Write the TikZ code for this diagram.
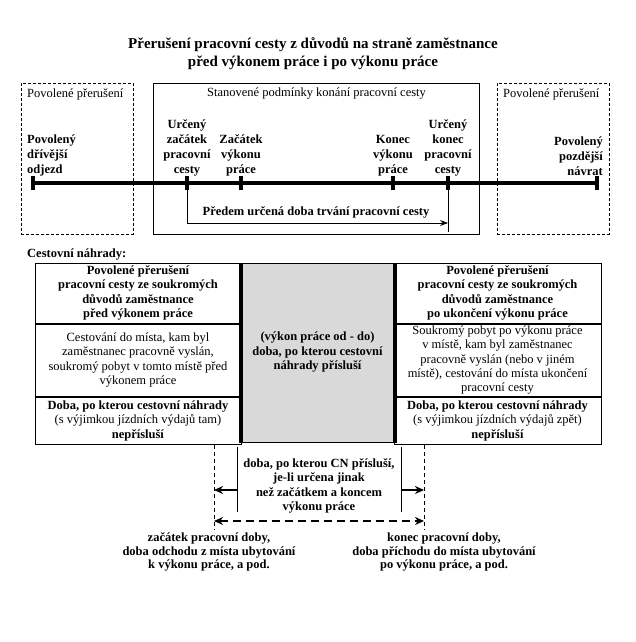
\documentclass[tikz,border=0pt]{standalone}
\usepackage{fontspec}
\setmainfont{Liberation Serif}
\usetikzlibrary{arrows.meta, positioning}

\begin{document}
\begin{tikzpicture}[x=1pt, y=-1pt,
    every node/.style={inner sep=0pt, font=\fontsize{12.5}{14.5}\selectfont},
    lbl/.style={font=\bfseries\fontsize{12.5}{15}\selectfont, align=center},
    brk/.style={draw, dash pattern=on 3pt off 2pt, line width=0.9pt},
    cell/.style={draw, line width=1pt, align=center},
    axis/.style={line width=4.5pt},
    tick/.style={line width=3.5pt},
    thick line/.style={line width=4pt},
    span/.style={line width=2pt, -{Stealth[length=9pt, width=8pt]}}]

    \useasboundingbox (0,0) rectangle (636,642);

    \node[font=\bfseries\fontsize{15}{18}\selectfont, align=center] (title) at (313,54)
      {Přerušení pracovní cesty z důvodů na straně zaměstnance\\před výkonem práce i po výkonu práce};

    % upper part: time axis
    \node[brk, minimum width=112, minimum height=151] (lbox) at (77,158.5) {};
    \node[draw, line width=1pt, minimum width=326, minimum height=151] (mbox) at (316,158.5) {};
    \node[brk, minimum width=112, minimum height=151] (rbox) at (553,158.5) {};
    \node[anchor=west] (lhead) at (27,94) {Povolené přerušení};
    \node[anchor=west] (mhead) at (207,94) {Stanovené podmínky konání pracovní cesty};
    \node[anchor=west] (rhead) at (503,94) {Povolené přerušení};

    \coordinate (t1) at (33,183);
    \coordinate (t2) at (187,183);
    \coordinate (t3) at (241,183);
    \coordinate (t4) at (393,183);
    \coordinate (t5) at (448,183);
    \coordinate (t6) at (597,183);
    \draw[axis] (t1) -- (t6);
    \foreach \t in {t1,t2,t3,t4,t5,t6}
      \draw[tick] ([yshift=-7pt]\t) -- ([yshift=7pt]\t);

    \node[lbl, align=left, anchor=south west] (early) at (27,176) {Povolený\\dřívější\\odjezd};
    \node[lbl, anchor=south] (tripstart) at (187,176) {Určený\\začátek\\pracovní\\cesty};
    \node[lbl, anchor=south] (workstart) at (241,176) {Začátek\\výkonu\\práce};
    \node[lbl, anchor=south] (workend) at (393,176) {Konec\\výkonu\\práce};
    \node[lbl, anchor=south] (tripend) at (448,176) {Určený\\konec\\pracovní\\cesty};
    \node[lbl, align=right, anchor=south east] (late) at (603,176) {Povolený\\pozdější\\návrat};

    \coordinate (a1) at (187,223);
    \coordinate (a2) at (448,223);
    \coordinate (a3) at (448,232);
    \draw[line width=0.8pt] (t2) -- (a1);
    \draw[line width=0.8pt] (t5) -- (a3);
    \draw[line width=1pt, -{Stealth[length=8pt, width=6pt]}] (a1) -- (a2);
    \node[lbl] (planned) at (316,212) {Předem určená doba trvání pracovní cesty};

    % lower part: table
    \node[font=\bfseries\fontsize{12.5}{14.5}\selectfont, anchor=west] (cn) at (27,255) {Cestovní náhrady:};

    \node[cell, font=\bfseries\fontsize{12.5}{14.3}\selectfont, minimum width=206, minimum height=60] (l1) at (138,293)
      {Povolené přerušení\\pracovní cesty ze soukromých\\důvodů zaměstnance\\před výkonem práce};
    \node[cell, minimum width=206, minimum height=72, below=0pt of l1] (l2)
      {Cestování do místa, kam byl\\zaměstnanec pracovně vyslán,\\soukromý pobyt v tomto místě před\\výkonem práce};
    \node[cell, minimum width=206, minimum height=47, below=0pt of l2] (l3)
      {\textbf{Doba, po kterou cestovní náhrady}\\(s výjimkou jízdních výdajů tam)\\\textbf{nepřísluší}};

    \node[cell, font=\bfseries\fontsize{12.5}{14.3}\selectfont, minimum width=207, minimum height=60] (r1) at (497.5,293)
      {Povolené přerušení\\pracovní cesty ze soukromých\\důvodů zaměstnance\\po ukončení výkonu práce};
    \node[cell, font=\fontsize{12.5}{14.3}\selectfont, minimum width=207, minimum height=72, below=0pt of r1] (r2)
      {Soukromý pobyt po výkonu práce\\v místě, kam byl zaměstnanec\\pracovně vyslán (nebo v jiném\\místě), cestování do místa ukončení\\pracovní cesty};
    \node[cell, minimum width=207, minimum height=47, below=0pt of r2] (r3)
      {\textbf{Doba, po kterou cestovní náhrady}\\(s výjimkou jízdních výdajů zpět)\\\textbf{nepřísluší}};

    \node[cell, fill=gray!30, font=\bfseries\fontsize{12.5}{14.5}\selectfont, minimum width=153, minimum height=179] (mid) at (317.5,352.5)
      {(výkon práce od - do)\\doba, po kterou cestovní\\náhrady přísluší};
    \draw[thick line] (mid.north west) -- (mid.south west);
    \draw[thick line] (mid.north east) -- (mid.south east);

    % bottom part: working hours
    \coordinate (dl1) at (214,445);
    \coordinate (dl2) at (214,530);
    \coordinate (dr1) at (424,445);
    \coordinate (dr2) at (424,530);
    \coordinate (sl1) at (237,447);
    \coordinate (sl2) at (237,512);
    \coordinate (sr1) at (401,447);
    \coordinate (sr2) at (401,512);
    \draw[line width=0.9pt, dash pattern=on 4pt off 3pt] (dl1) -- (dl2);
    \draw[line width=0.9pt, dash pattern=on 4pt off 3pt] (dr1) -- (dr2);
    \draw[line width=0.8pt] (sl1) -- (sl2);
    \draw[line width=0.8pt] (sr1) -- (sr2);
    \draw[span] (237,490) -- (214,490);
    \draw[span] (401,490) -- (424,490);
    \draw[line width=2.5pt, dash pattern=on 8pt off 5pt, {Stealth[length=9pt, width=8pt]}-{Stealth[length=9pt, width=8pt]}] (dl1 |- 0,521) -- (dr1 |- 0,521);

    \node[lbl, font=\bfseries\fontsize{12.5}{14.5}\selectfont] (cnspan) at (319,486)
      {doba, po kterou CN přísluší,\\je-li určena jinak\\než začátkem a koncem\\výkonu práce};
    \node[lbl, font=\bfseries\fontsize{12.5}{13.5}\selectfont] (wstart) at (209,552)
      {začátek pracovní doby,\\doba odchodu z místa ubytování\\k výkonu práce, a pod.};
    \node[lbl, font=\bfseries\fontsize{12.5}{13.5}\selectfont] (wend) at (444,552)
      {konec pracovní doby,\\doba příchodu do místa ubytování\\po výkonu práce, a pod.};
\end{tikzpicture}
\end{document}
